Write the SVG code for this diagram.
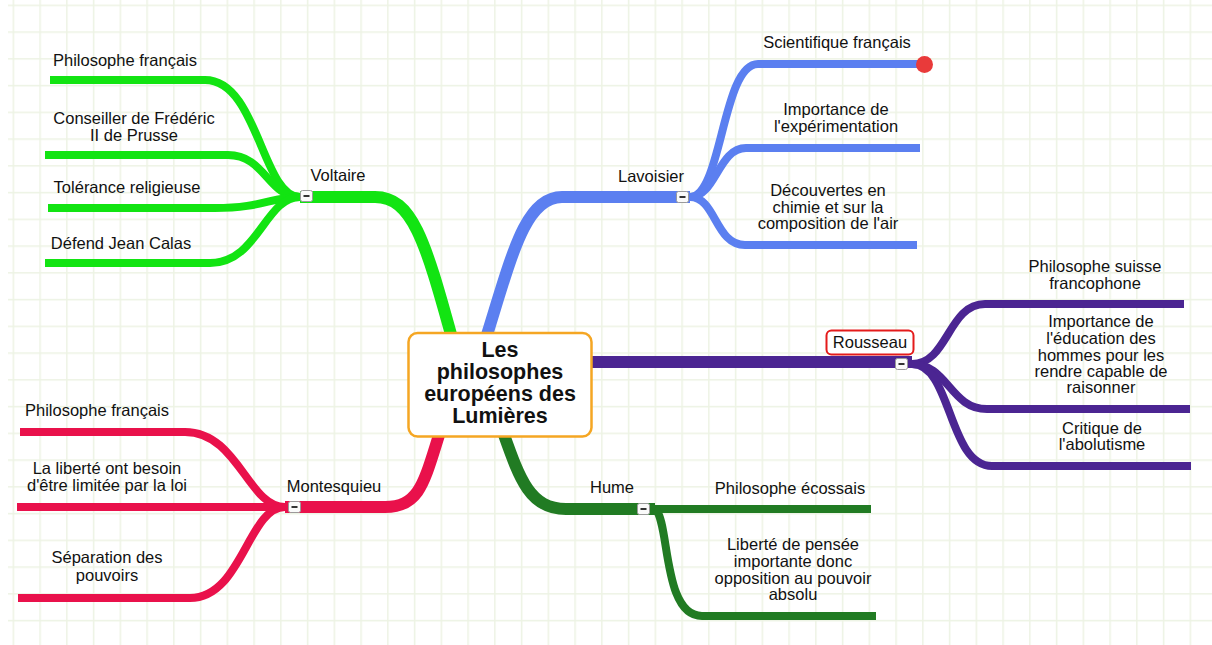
<svg xmlns="http://www.w3.org/2000/svg" width="1212" height="645" viewBox="0 0 1212 645">
<defs>
<pattern id="grid" patternUnits="userSpaceOnUse" x="12.6" y="4.6" width="26.75" height="26.75">
<path d="M0.75 0 V26.75 M0 0.75 H26.75" stroke="#edf3e4" stroke-width="1.5" fill="none"/>
</pattern>
<style>
text{font-family:"Liberation Sans",Arial,sans-serif;font-size:16.5px;fill:#111;text-anchor:middle}
.c{fill:none;stroke-linecap:butt;stroke-linejoin:round}
.main{stroke-width:12}
.sub{stroke-width:8}
.volt{stroke:#12e412}
.lav{stroke:#5b7ff0}
.rou{stroke:#4b2592}
.mon{stroke:#e9114b}
.hum{stroke:#217b23}
.mk rect{fill:#fafafa;stroke:#9a9a9a;stroke-width:1}
.mk path{stroke:#333;stroke-width:2}
</style>
</defs>
<rect width="1212" height="645" fill="#fff"/>
<rect x="8" y="0" width="1204" height="645" fill="url(#grid)"/>

<g id="connectors">
<!-- Voltaire -->
<path class="c main volt" d="M300 197 H375 C412 197 425 240 452 338"/>
<path class="c sub volt" d="M300 197 C262 197 258 80 205 80 H50"/>
<path class="c sub volt" d="M300 197 C268 197 265 155 228 155 H45"/>
<path class="c sub volt" d="M300 197 C272 197 262 208 215 208 H48"/>
<path class="c sub volt" d="M300 197 C265 197 258 263 210 263 H45"/>
<!-- Lavoisier -->
<path class="c main lav" d="M486 338 C512 255 525 197 562 197 H690"/>
<path class="c sub lav" d="M690 197 C722 197 722 64 758 64 H918"/>
<path class="c sub lav" d="M690 197 C716 197 718 148 746 148 H920"/>
<path class="c sub lav" d="M690 197 C716 197 715 245 745 245 H917"/>
<!-- Rousseau -->
<path class="c main rou" d="M591 362 H912"/>
<path class="c sub rou" d="M912 364 C948 364 948 304 985 304 H1184"/>
<path class="c sub rou" d="M912 364 C948 364 950 409 987 409 H1190"/>
<path class="c sub rou" d="M912 364 C952 364 948 466 992 466 H1191"/>
<!-- Montesquieu -->
<path class="c main mon" d="M440 432 C424 482 420 507 385 507 H285"/>
<path class="c sub mon" d="M285 507 C248 507 238 432 185 432 H20"/>
<path class="c sub mon" d="M285 507 H17"/>
<path class="c sub mon" d="M285 507 C248 507 242 598 190 598 H18"/>
<!-- Hume -->
<path class="c main hum" d="M503 432 C520 480 530 509 566 509 H655"/>
<path class="c sub hum" d="M655 509 H871"/>
<path class="c sub hum" d="M655 509 C670 520 662 616 702 616 H876"/>
</g>

<g id="center">
<rect x="408.5" y="333" width="183" height="103.5" rx="9" fill="#fff" stroke="#f5a623" stroke-width="2.5"/>
<text x="500" y="357" style="font-weight:bold;font-size:21.5px">Les</text>
<text x="500" y="379" style="font-weight:bold;font-size:21.5px">philosophes</text>
<text x="500" y="401" style="font-weight:bold;font-size:21.5px">européens des</text>
<text x="500" y="423" style="font-weight:bold;font-size:21.5px">Lumières</text>
</g>

<g id="voltaire">
<text x="338" y="181">Voltaire</text>
<g class="mk"><rect x="300.5" y="190.5" width="12" height="11" rx="2"/><path d="M303.5 196 H309.5"/></g>
</g>
<g id="v1"><text x="125" y="66">Philosophe français</text></g>
<g id="v2"><text x="134" y="124">Conseiller de Frédéric</text><text x="134" y="141">II de Prusse</text></g>
<g id="v3"><text x="127" y="193">Tolérance religieuse</text></g>
<g id="v4"><text x="121" y="249">Défend Jean Calas</text></g>

<g id="lavoisier">
<text x="651" y="182">Lavoisier</text>
<g class="mk"><rect x="676.5" y="191.5" width="12" height="11" rx="2"/><path d="M679.5 197 H685.5"/></g>
</g>
<g id="l1"><text x="837" y="48">Scientifique français</text><circle cx="924.5" cy="64.5" r="8.5" fill="#e93a3a"/></g>
<g id="l2"><text x="836" y="115">Importance de</text><text x="836" y="132">l'expérimentation</text></g>
<g id="l3"><text x="828" y="196">Découvertes en</text><text x="828" y="213">chimie et sur la</text><text x="828" y="229">composition de l'air</text></g>

<g id="rousseau">
<rect x="826.5" y="330.5" width="87" height="24" rx="5" fill="#fff" stroke="#e41b1b" stroke-width="2"/>
<text x="870" y="348">Rousseau</text>
<g class="mk"><rect x="895.5" y="358.5" width="12" height="11" rx="2"/><path d="M898.5 364 H904.5"/></g>
</g>
<g id="r1"><text x="1095" y="272">Philosophe suisse</text><text x="1095" y="289">francophone</text></g>
<g id="r2"><text x="1101" y="327">Importance de</text><text x="1101" y="344">l'éducation des</text><text x="1101" y="361">hommes pour les</text><text x="1101" y="377">rendre capable de</text><text x="1101" y="393">raisonner</text></g>
<g id="r3"><text x="1102" y="434">Critique de</text><text x="1102" y="450">l'abolutisme</text></g>

<g id="montesquieu">
<text x="334" y="492">Montesquieu</text>
<g class="mk"><rect x="288.5" y="501.5" width="12" height="11" rx="2"/><path d="M291.5 507 H297.5"/></g>
</g>
<g id="m1"><text x="97" y="416">Philosophe français</text></g>
<g id="m2"><text x="107" y="474">La liberté ont besoin</text><text x="107" y="491">d'être limitée par la loi</text></g>
<g id="m3"><text x="107" y="563">Séparation des</text><text x="107" y="581">pouvoirs</text></g>

<g id="hume">
<text x="612" y="493">Hume</text>
<g class="mk"><rect x="637.5" y="503.5" width="12" height="11" rx="2"/><path d="M640.5 509 H646.5"/></g>
</g>
<g id="h1"><text x="790" y="494">Philosophe écossais</text></g>
<g id="h2"><text x="793" y="550">Liberté de pensée</text><text x="793" y="567">importante donc</text><text x="793" y="584">opposition au pouvoir</text><text x="793" y="600">absolu</text></g>
</svg>
